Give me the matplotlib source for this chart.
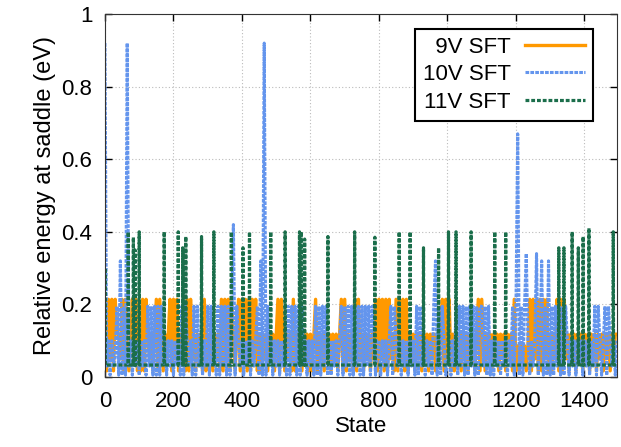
import numpy as np
import matplotlib.pyplot as plt

plt.rcParams['font.family'] = ['Liberation Sans', 'DejaVu Sans']
plt.rcParams['font.size'] = 16

# level codes (eV)
orange_levels = {'a': 0.017, 'b': 0.05, 'c': 0.086, 'd': 0.118, 'e': 0.214}
blue_levels = {'a': 0.005, 'b': 0.03, 'c': 0.06, 'd': 0.10, 'e': 0.195,
               'S': 0.92, 'T': 0.67, 'U': 0.42, 'V': 0.32, 'W': 0.34}

# one code per 5 states, 20 codes per 100 states
orange_codes = (
    "eaebeaeddbeaecacebea"
    + "daeaedbdadeaedadbdea"
    + "ebeadbdaeaebdadbdaea"
    + "dbdadbdaeaebeaedadea"
    + "ebeaeaebeadadbdadbda"
    + "deaedadbdaeadbdadbda"
    + "dadeadbdadbdadbdadea"
    + "eadbdaeaebdadbdadbea"
    + "ebeaeaebdaeaebeaeadb"
    + "dadbdadbdadbdadbdeae"
    + "beadadbdadbdadbdadea"
    + "edadbdadbdadbdadbdae"
    + "acacbcaceaebeaeaebea"
    + "dadbeaeaebdadbdadbda"
    + "dbdadbdadbdadbdadbdd"
)
blue_codes = (
    "SbdadbceaVaeaSbdadbd"
    + "adbdaebeaeaeaebdadbd"
    + "adbdaeaedbdaeaebdadb"
    + "eaebdaeaebeaeaeUaedb"
    + "dadbdadbdeaVaSaebdad"
    + "bdadbdaeaebeaeaebdad"
    + "bdaeaeaebeadadbdadea"
    + "ebeaeaebeaeaebeaedad"
    + "dadbdadeaedbdadbdadb"
    + "daeaebdadbdaeVaeaeda"
    + "bdadbeaebeaeaebeaeae"
    + "ebeaeadadbdadbdadbea"
    + "eTaeaeWdadbdWadVaeaV"
    + "aeaebeaeaedadbdadbda"
    + "dbdadbeaedadeaedbdad"
)

# 11V: flat line with single-state spikes
green_base = 0.033
spike_states = [0, 68, 83, 88, 100, 173, 214, 227, 236, 282, 318, 369, 403, 422,
                484, 526, 568, 573, 583, 651, 729, 788, 859, 891, 930, 974, 1003,
                1025, 1069, 1138, 1170, 1325, 1340, 1364, 1382, 1396, 1413, 1484]
spike_heights = [0.30, 0.40, 0.385, 0.35, 0.40, 0.40, 0.40, 0.356, 0.387, 0.387,
                 0.40, 0.40, 0.356, 0.40, 0.40, 0.40, 0.40, 0.40, 0.38, 0.387,
                 0.40, 0.385, 0.40, 0.40, 0.356, 0.356, 0.40, 0.40, 0.40, 0.40,
                 0.40, 0.356, 0.356, 0.40, 0.356, 0.387, 0.41, 0.40]
last_state = 1495

orange_y = np.array([orange_levels[c] for c in orange_codes])
orange_x = np.arange(len(orange_y)) * 5
blue_y = np.array([blue_levels[c] for c in blue_codes])
blue_x = np.arange(len(blue_y)) * 5

green_x, green_y = [], []
for s, h in zip(spike_states, spike_heights):
    green_x += [s - 1, s, s + 1]
    green_y += [green_base, h, green_base]
green_x.append(last_state)
green_y.append(green_base)

fig = plt.figure(figsize=(6.21, 4.47), dpi=100)
ax = fig.add_axes([0.169, 0.1566, 0.8246, 0.812])

ax.plot(orange_x, orange_y, color='#ff9900', lw=2.4, label='\u20079V SFT')
ax.plot(blue_x, blue_y, color='#6495ed', lw=2.2, ls=(0, (1.2, 0.4)), label='10V SFT')
ax.plot(green_x, green_y, color='#1b6e4b', lw=2.3, ls=(0, (1.2, 0.6)), label='11V SFT')

ax.set_xlim(0, last_state)
ax.set_ylim(0, 1)
ax.set_xticks(range(0, 1401, 200))
ax.set_yticks([0, 0.2, 0.4, 0.6, 0.8, 1])
ax.set_yticklabels(['0', '0.2', '0.4', '0.6', '0.8', '1'])
ax.tick_params(direction='in', top=True, right=True, length=5, width=1)
ax.tick_params(axis='x', pad=10)
ax.tick_params(axis='y', pad=9)
ax.grid(True, color='#bbbbbb', ls=(0, (1, 2)), lw=0.8)
for sp in ax.spines.values():
    sp.set_color('#333333')

ax.set_xlabel('State', labelpad=3)
ax.set_ylabel('Relative energy at saddle (eV)', fontsize=17, labelpad=4)

leg = ax.legend(loc='upper right', markerfirst=False, fancybox=False,
                edgecolor='black', framealpha=1, handlelength=2.7,
                handletextpad=0.65, labelspacing=0.3, borderpad=0.35,
                bbox_to_anchor=(0.975, 0.99))
leg.get_frame().set_linewidth(1.5)

fig.savefig('out.png', dpi=100)
